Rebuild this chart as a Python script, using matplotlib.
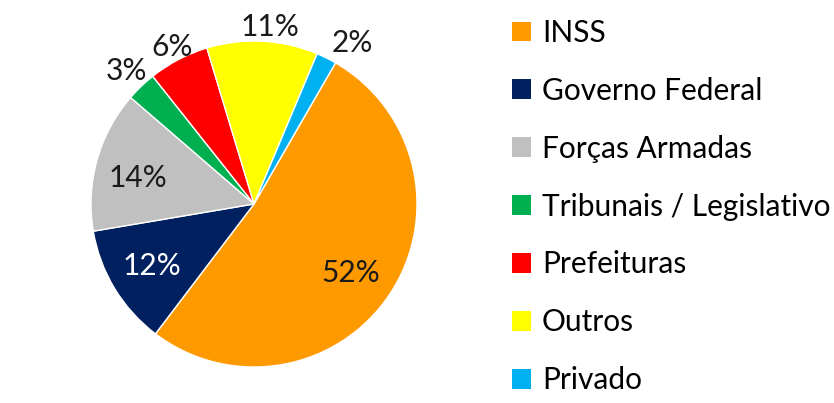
import matplotlib
matplotlib.use("Agg")
import matplotlib.pyplot as plt
import numpy as np

labels = ["INSS", "Governo Federal", "Forças Armadas", "Tribunais / Legislativo",
          "Prefeituras", "Outros", "Privado"]
values = [52, 12, 14, 3, 6, 11, 2]
pct_labels = ["52%", "12%", "14%", "3%", "6%", "11%", "2%"]
colors = ["#FF9900", "#002060", "#C0C0C0", "#00B050", "#FF0000", "#FFFF00", "#00B0F0"]
label_radius = [0.73, 0.73, 0.73, 1.13, 1.09, 1.09, 1.16]
label_angle_offset = [-2, 0, 3, 0, 0, -2, -5]  # degrees, clockwise positive
label_colors = ["#1a1a1a", "white", "#1a1a1a", "#1a1a1a", "#1a1a1a", "#1a1a1a", "#1a1a1a"]

plt.rcParams['font.family'] = ['Lato', 'DejaVu Sans']

W, H = 834, 403
fig = plt.figure(figsize=(W / 100, H / 100), dpi=100)
cx, cy, r = 254, 204, 163
ax = fig.add_axes([(cx - r) / W, (H - cy - r) / H, 2 * r / W, 2 * r / H])
wedges, _ = ax.pie(values, colors=colors, startangle=60, counterclock=False,
                   wedgeprops=dict(edgecolor="white", linewidth=1.0))
ax.set_xlim(-1, 1)
ax.set_ylim(-1, 1)
ax.set_aspect("equal")
ax.axis("off")

for w, t, rr, off, c in zip(wedges, pct_labels, label_radius, label_angle_offset, label_colors):
    ang = np.deg2rad((w.theta1 + w.theta2) / 2 + off)
    ax.text(rr * np.cos(ang), rr * np.sin(ang), t, ha="center", va="center",
            fontsize=21.5, color=c, clip_on=False)

leg = fig.legend(wedges, labels, loc="upper left", bbox_to_anchor=(512 / W, 1 - 19 / H),
                 frameon=False, fontsize=21.5, handlelength=0.65, handleheight=0.65,
                 handletextpad=0.35, labelspacing=1.0, borderpad=0, borderaxespad=0)
for h in leg.legend_handles:
    h.set_edgecolor("none")

fig.savefig("out.png", dpi=100)
